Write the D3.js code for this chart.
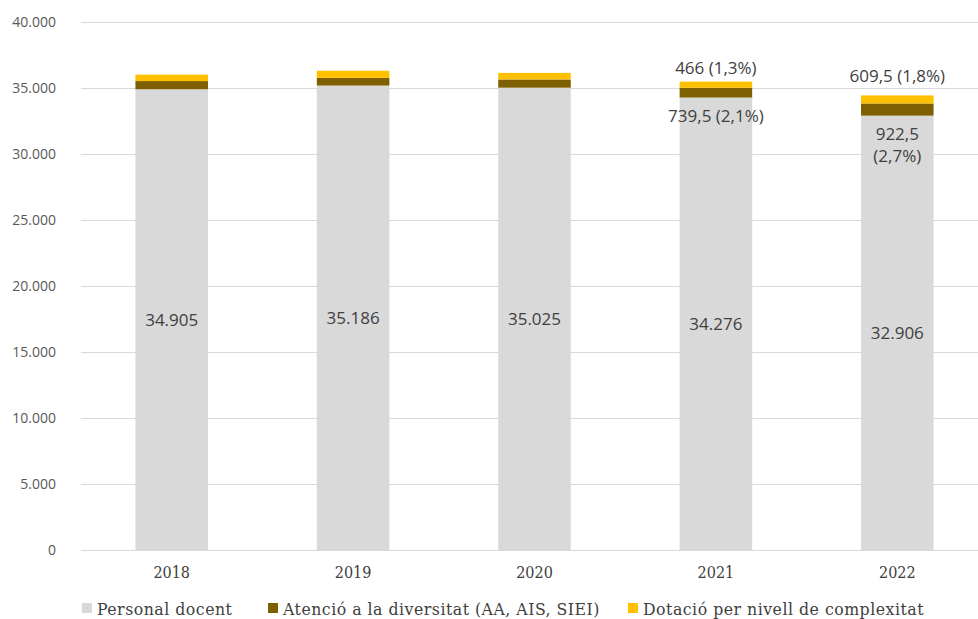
<!DOCTYPE html>
<html><head><meta charset="utf-8">
<script src="https://cdn.jsdelivr.net/npm/d3@7/dist/d3.min.js"></script>
<style>body{margin:0;background:#fff}svg{display:block}</style>
</head><body>
<svg id="c" width="978" height="619"></svg>
<script>
const years = ["2018","2019","2020","2021","2022"];
const personalDocent = [34905, 35186, 35025, 34276, 32906];
const atencioDiversitat = [620, 580, 620, 739.5, 922.5];
const dotacioComplexitat = [490, 540, 500, 466, 609.5];
const seriesNames = ["Personal docent","Atenció a la diversitat (AA, AIS, SIEI)","Dotació per nivell de complexitat"];
const seriesColors = ["#d9d9d9","#7f6000","#ffc000"];
const yTicks = [0,5000,10000,15000,20000,25000,30000,35000,40000];

(function(){
const svg = d3.select("#c");
const W = 978;
const mLeft = 81, mRight = 988, mTop = 22, mBottom = 550;
const x = d3.scaleBand().domain(years).range([mLeft, mRight]).paddingInner(0.6).paddingOuter(0.3);
const y = d3.scaleLinear().domain([0,40000]).range([mBottom, mTop]);
const fmt = d3.formatLocale({decimal:",", thousands:".", grouping:[3], currency:["","€"]});
const fInt = fmt.format(",d");

svg.append("g").selectAll("line").data(yTicks).join("line")
  .attr("x1", mLeft).attr("x2", W).attr("y1", d=>Math.round(y(d))+0.5).attr("y2", d=>Math.round(y(d))+0.5)
  .attr("stroke","#d9d9d9").attr("stroke-width",1);

const yAxis = d3.axisLeft(y).tickValues(yTicks).tickSize(0).tickPadding(0).tickFormat(d=>fInt(d));
const ya = svg.append("g").attr("transform",`translate(56,0)`).call(yAxis);
ya.select(".domain").remove();
ya.selectAll("text").attr("font-family","'Open Sans', sans-serif").attr("font-size","14px").attr("fill","#595959");

const rows = years.map((yr,i)=>({year:yr, p:personalDocent[i], a:atencioDiversitat[i], d:dotacioComplexitat[i]}));
const stack = d3.stack().keys(["p","a","d"])(rows);
svg.append("g").selectAll("g").data(stack).join("g")
  .attr("fill",(d,i)=>seriesColors[i])
  .selectAll("rect").data(d=>d).join("rect")
  .attr("x", d=>x(d.data.year)).attr("width", x.bandwidth())
  .attr("y", d=>y(d[1])).attr("height", d=>y(d[0])-y(d[1]));

const xAxis = d3.axisBottom(x).tickSize(0).tickPadding(0);
const xa = svg.append("g").attr("transform",`translate(0,${mBottom+22})`).call(xAxis);
xa.select(".domain").remove();
xa.selectAll("text").attr("font-family","'DejaVu Serif Condensed', 'DejaVu Serif', serif").attr("font-size","16px").attr("fill","#404040").attr("dy","0.35em");

const lab = svg.append("g").attr("font-family","'Open Sans', sans-serif").attr("font-size","17px").attr("fill","#404040").attr("text-anchor","middle");
rows.forEach((r,i)=>{
  lab.append("text").attr("x", x(r.year)+x.bandwidth()/2).attr("y", y(r.p/2)).attr("dy","0.35em").text(fInt(r.p));
});
const fDec = v => (Number.isInteger(v) ? String(v) : String(v).replace(".",","));
const pct = (v,t) => (v/t*100).toFixed(1).replace(".",",")+"%";
{
  const r = rows[3], cx = x(r.year)+x.bandwidth()/2, tot = r.p+r.a+r.d;
  lab.append("text").attr("x",cx).attr("y",y(tot)-14).attr("dy","0.35em").text(`${fDec(r.d)} (${pct(r.d,tot)})`);
  lab.append("text").attr("x",cx).attr("y",y(r.p)+18).attr("dy","0.35em").text(`${fDec(r.a)} (${pct(r.a,tot)})`);
}
{
  const r = rows[4], cx = x(r.year)+x.bandwidth()/2, tot = r.p+r.a+r.d;
  lab.append("text").attr("x",cx).attr("y",y(tot)-19).attr("dy","0.35em").text(`${fDec(r.d)} (${pct(r.d,tot)})`);
  lab.append("text").attr("x",cx).attr("y",y(r.p)+18).attr("dy","0.35em").text(`${fDec(r.a)}`);
  lab.append("text").attr("x",cx).attr("y",y(r.p)+40).attr("dy","0.35em").text(`(${pct(r.a,tot)})`);
}

const legX = [82, 268, 628];
const lg = svg.append("g").attr("font-family","'DejaVu Serif Condensed', 'DejaVu Serif', serif").attr("font-size","17.5px").attr("letter-spacing","0.5px").attr("fill","#404040");
seriesNames.forEach((n,i)=>{
  lg.append("rect").attr("x",legX[i]).attr("y",603).attr("width",10).attr("height",10).attr("fill",seriesColors[i]);
  lg.append("text").attr("x",legX[i]+15).attr("y",609).attr("dy","0.35em").text(n);
});
})();
</script>
</body></html>
